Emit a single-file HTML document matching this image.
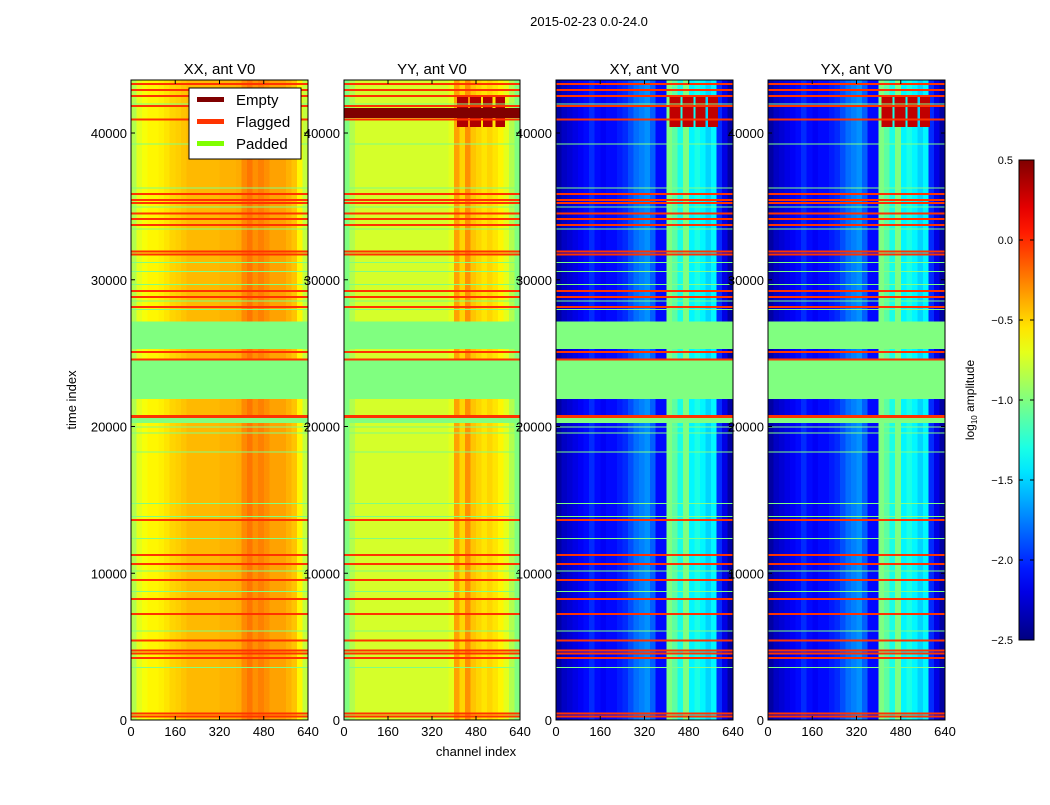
<!DOCTYPE html>
<html><head><meta charset="utf-8"><style>
body{margin:0;background:#fff;width:1050px;height:800px;overflow:hidden;font-family:"Liberation Sans","DejaVu Sans",sans-serif}
svg text{font-family:"Liberation Sans","DejaVu Sans",sans-serif}
</style></head><body>
<svg id="chart" width="1050" height="800" xmlns="http://www.w3.org/2000/svg">
<text x="589" y="26" font-size="13" text-anchor="middle">2015-02-23 0.0-24.0</text>
<text x="76" y="400" font-size="13" text-anchor="middle" transform="rotate(-90 76 400)">time index</text>
<text x="476" y="756" font-size="13" text-anchor="middle">channel index</text>
<g id="panels"></g>
<g id="cbar"></g>
</svg>
<script>
const panelTitles = ["XX, ant V0","YY, ant V0","XY, ant V0","YX, ant V0"];
const binWidth = 20;
const profileXX = [-0.85,-0.7,-0.65,-0.6,-0.6,-0.58,-0.55,-0.5,-0.48,-0.45,-0.42,-0.42,-0.42,-0.42,-0.42,-0.42,-0.4,-0.4,-0.4,-0.38,-0.28,-0.22,-0.3,-0.25,-0.3,-0.35,-0.35,-0.35,-0.4,-0.45,-0.6,-0.8];
const profileYY = [-1.0,-0.85,-0.75,-0.75,-0.75,-0.75,-0.75,-0.75,-0.75,-0.75,-0.75,-0.75,-0.75,-0.75,-0.75,-0.75,-0.75,-0.75,-0.75,-0.7,-0.35,-0.5,-0.3,-0.45,-0.5,-0.55,-0.5,-0.55,-0.6,-0.7,-0.85,-1.0];
const profileXY = [-2.4,-2.3,-2.25,-2.2,-2.15,-2.1,-2.0,-2.1,-2.15,-2.1,-2.1,-2.05,-2.0,-1.9,-1.8,-1.75,-1.7,-1.85,-2.1,-2.1,-1.0,-1.1,-1.3,-1.0,-1.4,-1.3,-1.4,-1.5,-1.4,-2.0,-2.2,-2.4];
const profileYX = [-2.4,-2.3,-2.25,-2.2,-2.15,-2.1,-2.0,-2.1,-2.15,-2.1,-2.1,-2.05,-2.0,-1.9,-1.8,-1.75,-1.7,-1.85,-2.1,-2.1,-1.0,-1.1,-1.3,-1.0,-1.4,-1.3,-1.4,-1.5,-1.4,-2.0,-2.2,-2.4];
const profiles = [profileXX, profileYY, profileXY, profileYX];
const paddedBands = [[25280,27140],[21870,24620],[20240,20650]];
const emptyBandYY = [41040,41700];
const hotBlockChannels = [[410,450],[458,498],[505,540],[550,585]];
const hotBlockTimes = [40400,42600];
const flaggedTimes = [43400,43000,42600,41900,41000,35900,35500,35300,34600,34200,33800,32000,31800,29300,28900,28200,25150,24650,20800,20700,13700,11300,10700,9600,8300,7300,5500,4800,4600,4300,500,300];
const paddedLineTimes = [42000,39300,36300,35000,33500,31200,30600,29700,28600,28000,20000,19600,18300,14800,13900,12400,10200,8800,6100,3600];
const xTicks = [0,160,320,480,640];
const yTicks = [0,10000,20000,30000,40000];
const cbarTicks = [-2.5,-2.0,-1.5,-1.0,-0.5,0.0,0.5];

const panelLeft=[131,344,556,768], panelW=[177,176,177,177];
const plotTop=80,plotBottom=720,tMax=43613,cMax=640;
const NS="http://www.w3.org/2000/svg";
function jet(v){
  const f=(x)=>Math.max(0,Math.min(1,x));
  const r=f(1.5-Math.abs(4*v-3)), g=f(1.5-Math.abs(4*v-2)), b=f(1.5-Math.abs(4*v-1));
  return `rgb(${Math.round(r*255)},${Math.round(g*255)},${Math.round(b*255)})`;
}
function col(val){return jet((val+2.5)/3);}
function el(tag,attrs,parent){const e=document.createElementNS(NS,tag);for(const k in attrs)e.setAttribute(k,attrs[k]);parent.appendChild(e);return e;}
function yS(t){return plotBottom-(t/tMax)*(plotBottom-plotTop);}
const panels=document.getElementById('panels');
for(let p=0;p<4;p++){
  const L=panelLeft[p],W=panelW[p];
  const xS=c=>L+c/cMax*W;
  const g=el('g',{'shape-rendering':'crispEdges'},panels);
  
  
  const prof=profiles[p];
  for(let i=0;i<prof.length;i++){
    const r=el('rect',{x:xS(i*binWidth),y:plotTop,width:xS((i+1)*binWidth)-xS(i*binWidth)+0.6,height:plotBottom-plotTop,fill:col(prof[i])},g);
    
    
  }
  if(p>=1){
    for(const hc of hotBlockChannels){
      const r=el('rect',{x:xS(hc[0]),y:yS(hotBlockTimes[1]),width:xS(hc[1])-xS(hc[0]),height:yS(hotBlockTimes[0])-yS(hotBlockTimes[1]),fill:p==1?'#b00000':'#c00000'},g);
      
      
    }
  }
  for(const b of paddedBands){
    const r=el('rect',{x:L,y:yS(b[1]),width:W,height:yS(b[0])-yS(b[1]),fill:'#80ff80'},g);
    
    
  }
  if(p==1){
    const r=el('rect',{x:L,y:yS(emptyBandYY[1]),width:W,height:yS(emptyBandYY[0])-yS(emptyBandYY[1]),fill:'#800000'},g);
    
    
  }
  for(const t of paddedLineTimes){
    const r=el('rect',{x:L,y:yS(t),width:W,height:1,fill:'#80ff80'},g);
    
    
  }
  for(const t of flaggedTimes){
    const r=el('rect',{x:L,y:yS(t),width:W,height:2,fill:'#ff3300'},g);
    
    
  }
  const fr=el('rect',{x:L,y:plotTop,width:W,height:plotBottom-plotTop,fill:'none',stroke:'#000','stroke-width':1},panels);
  
  
  const tt=el('text',{x:L+W/2,y:74,'font-size':15,'text-anchor':'middle'},panels);
  tt.textContent=panelTitles[p];
  
  
  for(const c of xTicks){
    el('line',{x1:xS(c),x2:xS(c),y1:plotBottom,y2:plotBottom-4,stroke:'#000'},panels);
    el('line',{x1:xS(c),x2:xS(c),y1:plotTop,y2:plotTop+4,stroke:'#000'},panels);
    const t=el('text',{x:xS(c),y:736,'font-size':13,'text-anchor':'middle'},panels);
    t.textContent=c;
    
    
  }
  for(const v of yTicks){
    el('line',{x1:L,x2:L+4,y1:yS(v),y2:yS(v),stroke:'#000'},panels);
    el('line',{x1:L+W,x2:L+W-4,y1:yS(v),y2:yS(v),stroke:'#000'},panels);
    const t=el('text',{x:L-4,y:yS(v)+5,'font-size':13,'text-anchor':'end'},panels);
    t.textContent=v;
    
    
  }
}
const lg=el('g',{},panels);


el('rect',{x:189,y:88,width:112,height:71,fill:'#fff',stroke:'#000'},lg);
const legendNames=['Empty','Flagged','Padded'], legendColors=['#800000','#ff3300','#80ff00'];
for(let i=0;i<3;i++){
  const y=100+i*22;
  const ln=el('rect',{x:197,y:y-3,width:27,height:5,fill:legendColors[i]},lg);
  
  
  const t=el('text',{x:236,y:y+5,'font-size':15},lg);
  t.textContent=legendNames[i];
  
  
}
const cb=document.getElementById('cbar');
const cbT=160,cbB=640,cbL=1019,cbW=15;
const defs=el('defs',{},cb);
const grad=el('linearGradient',{id:'jetg',x1:0,y1:1,x2:0,y2:0},defs);
for(let i=0;i<=20;i++){el('stop',{offset:i/20,'stop-color':jet(i/20)},grad);}
const cbr=el('rect',{x:cbL,y:cbT,width:cbW,height:cbB-cbT,fill:'url(#jetg)',stroke:'#000'},cb);


const cv=v=>cbB-(v+2.5)/3*(cbB-cbT);
for(const v of cbarTicks){
  el('line',{x1:cbL,x2:cbL+4,y1:cv(v),y2:cv(v),stroke:'#000'},cb);
  el('line',{x1:cbL+cbW,x2:cbL+cbW-4,y1:cv(v),y2:cv(v),stroke:'#000'},cb);
  const t=el('text',{x:1013,y:cv(v)+4,'font-size':11,'text-anchor':'end'},cb);
  t.textContent=(v<0?'\u2212':'')+Math.abs(v).toFixed(1);
  
  
}
const ct=el('text',{x:974,y:400,'font-size':12,'text-anchor':'middle',transform:'rotate(-90 974 400)'},cb);
ct.innerHTML='log<tspan font-size="8" dy="3">10</tspan><tspan dy="-3"> amplitude</tspan>';


</script>
</body></html>
